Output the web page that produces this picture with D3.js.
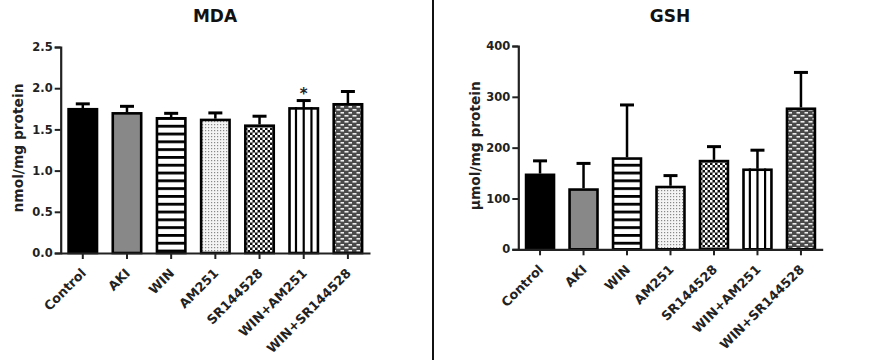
<!DOCTYPE html>
<html>
<head>
<meta charset="utf-8">
<script src="https://cdn.jsdelivr.net/npm/d3@7/dist/d3.min.js"></script>
<style>
  html, body { margin: 0; padding: 0; background: #fff; }
  svg { display: block; }
  text { font-family: "DejaVu Sans", Verdana, sans-serif; }
</style>
</head>
<body>
<script>
// ---- data ----
const categories = ["Control", "AKI", "WIN", "AM251", "SR144528", "WIN+AM251", "WIN+SR144528"];
const mdaMean = [1.76, 1.71, 1.65, 1.63, 1.56, 1.77, 1.82];
const mdaErr  = [0.05, 0.07, 0.045, 0.07, 0.10, 0.08, 0.14];
const mdaTicks = [0.0, 0.5, 1.0, 1.5, 2.0, 2.5];
const gshMean = [149, 120, 181, 125, 176, 159, 279];
const gshErr  = [25, 49, 103, 20, 26, 36, 69];
const gshTicks = [0, 100, 200, 300, 400];
const mdaSignificant = ["WIN+AM251"];

// ---- drawing ----
const W = 873, H = 360;
const svg = d3.select("body").append("svg").attr("width", W).attr("height", H);
const defs = svg.append("defs");

// patterns
const hs = defs.append("pattern").attr("id", "hstripe").attr("patternUnits", "userSpaceOnUse")
  .attr("width", 8).attr("height", 7.8);
hs.append("rect").attr("width", 8).attr("height", 7.8).attr("fill", "#fff");
hs.append("rect").attr("y", 0).attr("width", 8).attr("height", 2.8).attr("fill", "#000");

const dots = defs.append("pattern").attr("id", "dots").attr("patternUnits", "userSpaceOnUse")
  .attr("width", 3).attr("height", 3);
dots.append("rect").attr("width", 3).attr("height", 3).attr("fill", "#f4f4f4");
dots.append("rect").attr("x", 1).attr("y", 1).attr("width", 1.2).attr("height", 1.2).attr("fill", "#888");

const ck = defs.append("pattern").attr("id", "checker").attr("patternUnits", "userSpaceOnUse")
  .attr("width", 5).attr("height", 5);
ck.append("rect").attr("width", 5).attr("height", 5).attr("fill", "#111");
ck.append("rect").attr("x", 0).attr("y", 0).attr("width", 2.5).attr("height", 2.5).attr("fill", "#fff");
ck.append("rect").attr("x", 2.5).attr("y", 2.5).attr("width", 2.5).attr("height", 2.5).attr("fill", "#fff");

const br = defs.append("pattern").attr("id", "brick").attr("patternUnits", "userSpaceOnUse")
  .attr("width", 8).attr("height", 6);
br.append("rect").attr("width", 8).attr("height", 6).attr("fill", "#4a4a4a");
br.append("rect").attr("x", 0.5).attr("y", 1).attr("width", 4).attr("height", 1.6).attr("fill", "#eee");
br.append("rect").attr("x", 4.5).attr("y", 4).attr("width", 4).attr("height", 1.6).attr("fill", "#eee");

const fills = ["#000", "#888", "url(#hstripe)", "url(#dots)", "url(#checker)", "#fff", "url(#brick)"];

function panel(o) {
  const g = svg.append("g");
  const x = d3.scaleBand().domain(categories).range([o.x0, o.x1]).paddingInner(0.3).paddingOuter(0.15);
  const y = d3.scaleLinear().domain(o.domain).range([o.y0, o.y1]);
  const bw = x.bandwidth();

  // title
  g.append("text").attr("x", o.titleX).attr("y", 21.5).attr("text-anchor", "middle")
    .attr("font-size", 17).attr("font-weight", "bold").attr("fill", "#111").text(o.title);

  // y label
  g.append("text").attr("transform", `translate(${o.labelX},${(o.y0 + o.y1) / 2 - 2}) rotate(-90)`)
    .attr("text-anchor", "middle").attr("font-size", 13.5).attr("font-weight", "bold").attr("fill", "#222")
    .attr("textLength", 129).attr("lengthAdjust", "spacingAndGlyphs")
    .text(o.ylabel);

  // error bars
  const data = categories.map((c, i) => ({ c, v: o.mean[i], e: o.err[i], i }));
  g.selectAll(".eb").data(data).join("line")
    .attr("x1", d => x(d.c) + bw / 2).attr("x2", d => x(d.c) + bw / 2)
    .attr("y1", d => y(d.v)).attr("y2", d => y(d.v + d.e))
    .attr("stroke", "#000").attr("stroke-width", 2.5);
  g.selectAll(".cap").data(data).join("line")
    .attr("x1", d => x(d.c) + bw / 2 - 7).attr("x2", d => x(d.c) + bw / 2 + 7)
    .attr("y1", d => y(d.v + d.e)).attr("y2", d => y(d.v + d.e))
    .attr("stroke", "#000").attr("stroke-width", 3);

  // bars
  g.selectAll(".bar").data(data).join("rect")
    .attr("x", d => x(d.c) + 1.25).attr("width", bw - 2.5)
    .attr("y", d => y(d.v) + 1.25).attr("height", d => y(0) - y(d.v) - 1.25)
    .attr("fill", d => fills[d.i]).attr("stroke", "#000").attr("stroke-width", 2.6);

  // vertical stripes for WIN+AM251
  const vs = data.filter(d => d.c === "WIN+AM251");
  [0.25, 0.5, 0.75].forEach(f => {
    g.selectAll(null).data(vs).join("line")
      .attr("x1", d => x(d.c) + bw * f).attr("x2", d => x(d.c) + bw * f)
      .attr("y1", d => y(d.v)).attr("y2", y(0))
      .attr("stroke", "#000").attr("stroke-width", 2.2);
  });

  // significance
  if (o.sig) {
    g.selectAll(".sig").data(data.filter(d => o.sig.includes(d.c))).join("text")
      .attr("x", d => x(d.c) + bw / 2).attr("y", d => y(d.v + d.e) - 2)
      .attr("text-anchor", "middle").attr("font-size", 15).attr("font-weight", "bold").attr("fill", "#222")
      .text("*");
  }

  // y axis
  const ya = g.append("g").attr("transform", `translate(${o.x0},0)`)
    .call(d3.axisLeft(y).tickValues(o.ticks).tickFormat(o.fmt).tickSize(6).tickPadding(2));
  ya.select(".domain").attr("stroke", "#222").attr("stroke-width", 2.2);
  ya.selectAll(".tick line").attr("stroke", "#222").attr("stroke-width", 2);
  ya.selectAll(".tick text").attr("font-family", "DejaVu Sans").attr("font-size", 11.5)
    .attr("font-weight", "bold").attr("fill", "#222");

  // x axis
  const xa = g.append("g").attr("transform", `translate(0,${o.y0})`)
    .call(d3.axisBottom(x).tickSize(6).tickSizeOuter(0));
  xa.select(".domain").attr("stroke", "#222").attr("stroke-width", 2.2);
  xa.selectAll(".tick line").attr("stroke", "#222").attr("stroke-width", 2);
  xa.selectAll(".tick text").attr("font-family", "DejaVu Sans").attr("font-size", 12.8)
    .attr("font-weight", "bold").attr("fill", "#222")
    .attr("text-anchor", "end").attr("dy", null).attr("y", null)
    .attr("transform", "translate(4,21) rotate(-45)");
}

panel({
  title: "MDA", titleX: 215, ylabel: "nmol/mg protein", labelX: 23,
  x0: 60.7, x1: 370, y0: 253, y1: 47, domain: [0, 2.5],
  mean: mdaMean, err: mdaErr, ticks: mdaTicks, fmt: d3.format(".1f"), sig: mdaSignificant
});
panel({
  title: "GSH", titleX: 670, ylabel: "\u00b5mol/mg protein", labelX: 480,
  x0: 518.3, x1: 822.7, y0: 249.3, y1: 46, domain: [0, 400],
  mean: gshMean, err: gshErr, ticks: gshTicks, fmt: d3.format("d"), sig: null
});

// divider
svg.append("line").attr("x1", 433).attr("x2", 433).attr("y1", 0).attr("y2", H)
  .attr("stroke", "#111").attr("stroke-width", 2);
</script>
</body>
</html>
